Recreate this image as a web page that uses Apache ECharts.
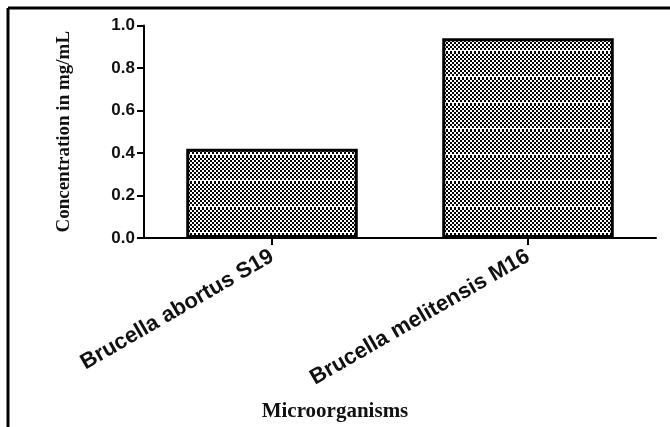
<!DOCTYPE html>
<html>
<head>
<meta charset="utf-8">
<script src="https://cdn.jsdelivr.net/npm/echarts@6/dist/echarts.min.js"></script>
<style>
html,body{margin:0;padding:0;background:#fff;}
#chart{width:670px;height:427px;}
</style>
</head>
<body>
<div id="chart"></div>
<script>
var categories = ['Brucella abortus S19', 'Brucella melitensis M16'];
var values = [0.42, 0.94];
var yTicks = [0.0, 0.2, 0.4, 0.6, 0.8, 1.0];
var yTitle = 'Concentration in mg/mL';
var xTitle = 'Microorganisms';

// hatch pattern
var pc = document.createElement('canvas');
pc.width = 4; pc.height = 26;
var pctx = pc.getContext('2d');
pctx.fillStyle = '#000';
pctx.fillRect(0, 0, 4, 26);
pctx.fillStyle = '#fff';
for (var y = 0; y < 26; y++) {
  for (var x = 0; x < 4; x++) {
    if (((x >> 1) + (y >> 1)) % 2 === 0) pctx.fillRect(x, y, 1, 1);
  }
}
pctx.fillRect(0, 24, 4, 1);

var chart = echarts.init(document.getElementById('chart'), null, {renderer: 'canvas'});
chart.setOption({
  backgroundColor: '#fff',
  animation: false,
  title: {
    text: xTitle,
    left: 'center',
    top: 396,
    textStyle: {fontFamily: 'Liberation Serif', fontWeight: 'bold', fontSize: 21, color: '#111'}
  },
  grid: {left: 144, right: 14, top: 25.5, bottom: 189, containLabel: false},
  xAxis: {
    type: 'category',
    data: categories,
    axisLine: {lineStyle: {color: '#000', width: 2}},
    axisTick: {show: true, alignWithLabel: true, length: 7, lineStyle: {color: '#000', width: 2}},
    axisLabel: {
      rotate: 30, interval: 0, margin: 17,
      fontFamily: 'Liberation Sans', fontWeight: 'bold', fontSize: 22, color: '#111'
    }
  },
  yAxis: {
    type: 'value',
    min: yTicks[0], max: yTicks[yTicks.length - 1], interval: 0.2,
    name: yTitle,
    nameLocation: 'middle',
    nameGap: 70,
    nameRotate: 90,
    nameTextStyle: {fontFamily: 'Liberation Serif', fontWeight: 'bold', fontSize: 19, color: '#111'},
    axisLine: {show: true, lineStyle: {color: '#000', width: 2}},
    axisTick: {show: true, length: 7, lineStyle: {color: '#000', width: 2}},
    splitLine: {show: false},
    axisLabel: {
      margin: 9,
      fontFamily: 'Liberation Sans', fontWeight: 'bold', fontSize: 17, color: '#111',
      formatter: function (v) { return v.toFixed(1); }
    }
  },
  series: [{
    type: 'bar',
    data: values,
    barWidth: '67%',
    itemStyle: {
      color: {image: pc, repeat: 'repeat'},
      borderColor: '#000',
      borderWidth: 3
    }
  }],
  graphic: [
    {type: 'line', shape: {x1: 8, y1: 8, x2: 670, y2: 8}, style: {stroke: '#000', lineWidth: 3}},
    {type: 'line', shape: {x1: 8, y1: 8, x2: 8, y2: 427}, style: {stroke: '#000', lineWidth: 3}}
  ]
});
</script>
</body>
</html>
